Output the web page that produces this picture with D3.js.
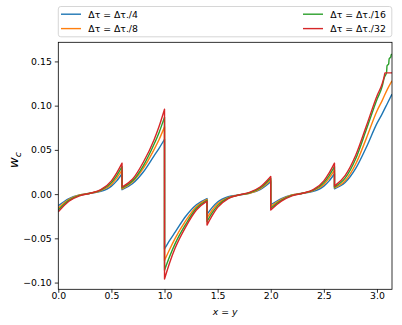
<html>
<head>
<script src="https://d3js.org/d3.v7.min.js"></script>
<style>
  body { margin: 0; background: #fff; }
  text { font-family: "DejaVu Sans", sans-serif; }
  .axis text { font-size: 9.3px; fill: #000; }
  .axis line { stroke: #000; stroke-width: 0.8; }
  .axis .domain { stroke: none; }
</style>
</head>
<body>
<script>
// x positions / values, one sub-array per continuous piece
const xTicks = [0, 0.5, 1.0, 1.5, 2.0, 2.5, 3.0];
const yTicks = [-0.10, -0.05, 0.00, 0.05, 0.10, 0.15];
const labels = ['Δτ = Δτ./4', 'Δτ = Δτ./8', 'Δτ = Δτ./16', 'Δτ = Δτ./32'];
const colors = ['#1f77b4', '#ff7f0e', '#2ca02c', '#d62728'];

const dt4 = [
  [[0,-0.013],[0.1,-0.005],[0.2,-0.001],[0.3,0.001],[0.4,0.003],[0.5,0.009],[0.55,0.015],[0.6,0.023]],
  [[0.6,0.005],[0.7,0.012],[0.8,0.025],[0.9,0.043],[0.95,0.052],[1.0,0.062]],
  [[1.0,-0.062],[1.05,-0.052],[1.1,-0.043],[1.2,-0.025],[1.3,-0.012],[1.4,-0.005]],
  [[1.4,-0.023],[1.45,-0.015],[1.5,-0.009],[1.6,-0.003],[1.7,-0.001],[1.8,0.001],[1.9,0.005],[2.0,0.014]],
  [[2.0,-0.012],[2.1,-0.005],[2.2,-0.001],[2.3,0.001],[2.4,0.003],[2.5,0.009],[2.55,0.015],[2.6,0.023]],
  [[2.6,0.006],[2.7,0.013],[2.8,0.029],[2.9,0.053],[3.0,0.080],[3.05,0.091],[3.1,0.103],[Math.PI,0.113]]
];
const dt8 = [
  [[0,-0.016],[0.1,-0.006],[0.2,-0.001],[0.3,0.001],[0.4,0.004],[0.5,0.011],[0.55,0.018],[0.6,0.027]],
  [[0.6,0.006],[0.7,0.014],[0.8,0.029],[0.9,0.050],[0.95,0.062],[1.0,0.076]],
  [[1.0,-0.075],[1.05,-0.062],[1.1,-0.050],[1.2,-0.030],[1.3,-0.014],[1.4,-0.006]],
  [[1.4,-0.027],[1.45,-0.018],[1.5,-0.011],[1.6,-0.004],[1.7,-0.001],[1.8,0.001],[1.9,0.006],[2.0,0.016]],
  [[2.0,-0.014],[2.1,-0.006],[2.2,-0.001],[2.3,0.001],[2.4,0.004],[2.5,0.011],[2.55,0.018],[2.6,0.027]],
  [[2.6,0.007],[2.7,0.015],[2.8,0.034],[2.9,0.063],[3.0,0.094],[3.05,0.106],[3.1,0.119],[Math.PI,0.128]]
];
const dt16 = [
  [[0,-0.018],[0.1,-0.007],[0.2,-0.0015],[0.3,0.001],[0.4,0.0045],[0.5,0.013],[0.55,0.021],[0.6,0.031]],
  [[0.6,0.007],[0.7,0.015],[0.8,0.032],[0.9,0.056],[0.95,0.070],[1.0,0.087]],
  [[1.0,-0.086],[1.05,-0.070],[1.1,-0.056],[1.2,-0.034],[1.3,-0.016],[1.4,-0.007]],
  [[1.4,-0.031],[1.45,-0.021],[1.5,-0.013],[1.6,-0.0045],[1.7,-0.001],[1.8,0.0015],[1.9,0.007],[2.0,0.018]],
  [[2.0,-0.016],[2.1,-0.007],[2.2,-0.0015],[2.3,0.001],[2.4,0.0045],[2.5,0.013],[2.55,0.021],[2.6,0.031]],
  [[2.6,0.008],[2.7,0.018],[2.8,0.040],[2.9,0.073],[3.0,0.107],[3.05,0.122],[3.07,0.132],[3.09,0.137],
   [3.095,0.145],[3.11,0.147],[3.115,0.153],[3.13,0.155],[3.135,0.158],[Math.PI,0.158]]
];
const dt32 = [
  [[0,-0.020],[0.1,-0.008],[0.2,-0.002],[0.3,0.001],[0.4,0.005],[0.5,0.015],[0.55,0.024],[0.6,0.035]],
  [[0.6,0.008],[0.7,0.017],[0.8,0.036],[0.9,0.061],[0.95,0.077],[1.0,0.096]],
  [[1.0,-0.096],[1.05,-0.077],[1.1,-0.061],[1.2,-0.037],[1.3,-0.018],[1.4,-0.008]],
  [[1.4,-0.035],[1.45,-0.024],[1.5,-0.015],[1.6,-0.005],[1.7,-0.001],[1.8,0.002],[1.9,0.008],[2.0,0.020]],
  [[2.0,-0.018],[2.1,-0.008],[2.2,-0.002],[2.3,0.001],[2.4,0.005],[2.5,0.015],[2.55,0.024],[2.6,0.035]],
  [[2.6,0.009],[2.7,0.021],[2.8,0.044],[2.9,0.077],[3.0,0.111],[3.05,0.125],[3.07,0.134],[3.075,0.137],[Math.PI,0.137]]
];
const series = [dt4, dt8, dt16, dt32];

const width = 402, height = 325;
const margins = {top: 42.3, right: 10, bottom: 35.7, left: 58.3};

const svg = d3.select('body').append('svg')
  .attr('width', width)
  .attr('height', height);

const xScale = d3.scaleLinear()
  .domain([0, Math.PI])
  .range([margins.left, width - margins.right]);
const yScale = d3.scaleLinear()
  .domain([-0.1076, 0.1716])
  .range([height - margins.bottom, margins.top]);

// lines, one path per series; pieces glued so jumps show as vertical lines
const line = d3.line()
  .x(d => xScale(d[0]))
  .y(d => yScale(d[1]))
  .curve(d3.curveMonotoneX);

svg.append('clipPath').attr('id', 'clip')
  .append('rect')
  .attr('x', margins.left).attr('y', margins.top)
  .attr('width', width - margins.left - margins.right)
  .attr('height', height - margins.top - margins.bottom);

series.forEach((s, i) => {
  let p = s.map((seg, j) => {
    let str = line(seg);
    return j == 0 ? str : 'L' + str.slice(1);
  }).join('');
  svg.append('path')
    .attr('d', p)
    .attr('fill', 'none')
    .attr('stroke', colors[i])
    .attr('stroke-width', 1.4)
    .attr('stroke-linejoin', 'round')
    .attr('clip-path', 'url(#clip)');
});

// axes
let fmt = d3.format('.2f');
let gy = svg.append('g')
  .attr('class', 'axis')
  .attr('transform', `translate(${margins.left},0)`)
  .call(d3.axisLeft(yScale).tickValues(yTicks).tickSize(3.5).tickSizeOuter(0)
    .tickPadding(3).tickFormat(fmt));

let gx = svg.append('g')
  .attr('class', 'axis')
  .attr('transform', `translate(0,${height - margins.bottom})`)
  .call(d3.axisBottom(xScale).tickValues(xTicks).tickSize(3.5).tickSizeOuter(0)
    .tickFormat(d3.format('.1f')));
gx.selectAll('text').attr('y', 9.3).attr('dy', 0);

// frame
svg.append('rect')
  .attr('x', margins.left).attr('y', margins.top)
  .attr('width', width - margins.left - margins.right)
  .attr('height', height - margins.top - margins.bottom)
  .attr('fill', 'none')
  .attr('stroke', '#000')
  .attr('stroke-width', 0.8);

// axis labels
svg.append('text')
  .attr('x', (margins.left + width - margins.right) / 2)
  .attr('y', 314.5)
  .attr('text-anchor', 'middle')
  .style('font-size', '9.3px')
  .style('font-style', 'italic')
  .text('x = y');

let yl = svg.append('text')
  .attr('transform', 'translate(18,160) rotate(-90)')
  .attr('text-anchor', 'middle')
  .style('font-size', '13px')
  .style('font-style', 'italic');
yl.append('tspan').text('w');
yl.append('tspan').attr('dy', 3).style('font-size', '9.5px').text('c');

// legend
let lg = svg.append('g');
lg.append('rect')
  .attr('x', 58.3).attr('y', 6.5)
  .attr('width', 333.5).attr('height', 30.3)
  .attr('rx', 2.5)
  .attr('fill', '#fff')
  .attr('fill-opacity', 0.8)
  .attr('stroke', '#cccccc')
  .attr('stroke-width', 0.8);

const legPos = [[61, 14.2], [61, 28.6], [303, 14.2], [303, 28.6]];
labels.forEach((lab, i) => {
  let [lx, ly] = legPos[i];
  lg.append('line')
    .attr('x1', lx).attr('x2', lx + 20)
    .attr('y1', ly).attr('y2', ly)
    .attr('stroke', colors[i])
    .attr('stroke-width', 1.4);
  lg.append('text')
    .attr('x', lx + 27.3).attr('y', ly + 3.4)
    .style('font-size', '9.3px')
    .text(lab);
});
</script>
</body>
</html>
